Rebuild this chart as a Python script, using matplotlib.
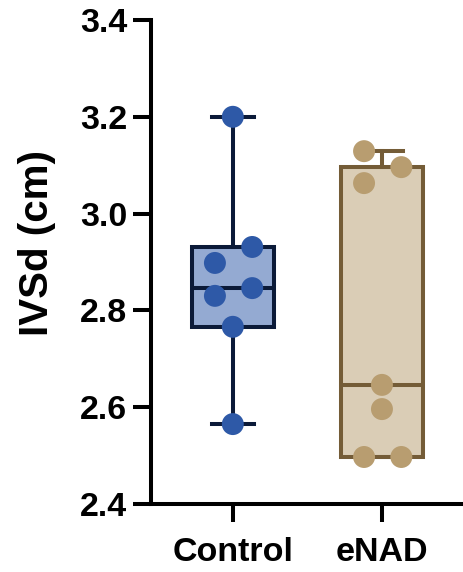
"""
IVSd 箱线图 (Control vs eNAD)
"""
import numpy as np
import matplotlib
matplotlib.use('Agg')
import matplotlib.pyplot as plt

plt.rcParams['font.family'] = ['Liberation Sans', 'DejaVu Sans']
plt.rcParams['font.weight'] = 'bold'

# 数据
groups = ["Control", "eNAD"]
control_vals = [3.200, 2.931, 2.898, 2.846, 2.830, 2.766, 2.565]
enad_vals = [3.129, 3.096, 3.063, 2.646, 2.596, 2.497, 2.497]
ylabel = "IVSd (cm)"
yticks = [2.4, 2.6, 2.8, 3.0, 3.2, 3.4]

# 点的水平散开位置（布局）
control_offsets = [0.0, 0.13, -0.12, 0.13, -0.12, 0.0, 0.0]
enad_offsets = [-0.12, 0.13, -0.12, 0.0, 0.0, -0.12, 0.13]

point_colors = ["#2E59A7", "#B89D70"]
fill_colors = ["#94AAD2", "#DACDB6"]
edge_colors = ["#0B1A38", "#745C37"]

fig = plt.figure(figsize=(4.64, 5.72), dpi=100)
ax = fig.add_axes([0.325, 0.119, 0.673, 0.846])

all_vals = [control_vals, enad_vals]
all_offsets = [control_offsets, enad_offsets]

for i, vals in enumerate(all_vals):
    v = np.array(vals)
    q1, med, q3 = np.percentile(v, [25, 50, 75], method='weibull')
    stats = [{
        "med": med, "q1": q1, "q3": q3,
        "whislo": v.min(), "whishi": v.max(), "fliers": [],
    }]
    lw = 2.9
    ax.bxp(stats, positions=[i], widths=0.55, patch_artist=True,
           showfliers=False, manage_ticks=False,
           boxprops=dict(facecolor=fill_colors[i], edgecolor=edge_colors[i], linewidth=lw),
           medianprops=dict(color=edge_colors[i], linewidth=lw),
           whiskerprops=dict(color=edge_colors[i], linewidth=lw),
           capprops=dict(color=edge_colors[i], linewidth=lw),
           capwidths=0.28, zorder=2)
    xs = i + np.array(all_offsets[i])
    ax.scatter(xs, v, s=250, color=point_colors[i], edgecolors='none', zorder=3,
               clip_on=False)

ax.set_xlim(-0.55, 1.544)
ax.set_ylim(2.4, 3.4)
ax.set_yticks(yticks)
ax.set_yticklabels([f"{t:.1f}" for t in yticks])
ax.set_xticks(range(len(groups)))
ax.set_xticklabels(groups)

for s in ["top", "right"]:
    ax.spines[s].set_visible(False)
for s in ["left", "bottom"]:
    ax.spines[s].set_linewidth(2.9)
ax.tick_params(axis='both', width=2.9, length=13, labelsize=24.5, pad=4)
ax.tick_params(axis='x', pad=11)
for lab in ax.get_xticklabels() + ax.get_yticklabels():
    lab.set_fontweight('bold')

ax.set_ylabel(ylabel, fontsize=29, fontweight='bold')
ax.yaxis.set_label_coords(-0.305, 0.54)

fig.savefig("out.png", dpi=100)
